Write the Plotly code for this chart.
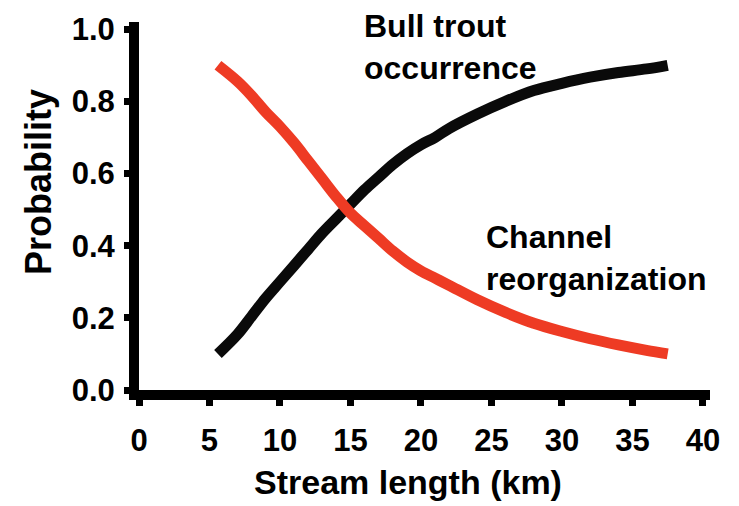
import plotly.graph_objects as go

# Stream length (km) at which the fitted curves were sampled
stream_km = [5.6, 7, 8, 9, 10, 11, 12, 13, 14, 15, 16, 17, 18, 19, 20, 21, 22,
             24, 26, 28, 30, 32, 34, 36, 37.5]

# Probability of bull trout occurrence
bull_trout = [0.10, 0.155, 0.205, 0.255, 0.30, 0.345, 0.39, 0.435, 0.475, 0.515,
              0.555, 0.59, 0.625, 0.655, 0.68, 0.70, 0.725, 0.765, 0.80, 0.83,
              0.85, 0.867, 0.88, 0.89, 0.90]

# Probability of channel reorganization
channel_reorg = [0.90, 0.855, 0.815, 0.77, 0.73, 0.685, 0.635, 0.585, 0.535, 0.49,
                 0.455, 0.42, 0.385, 0.355, 0.33, 0.31, 0.29, 0.25, 0.215, 0.185,
                 0.162, 0.142, 0.125, 0.11, 0.10]

x_ticks = [0, 5, 10, 15, 20, 25, 30, 35, 40]
y_ticks = [0.0, 0.2, 0.4, 0.6, 0.8, 1.0]
y_tick_text = ["0.0", "0.2", "0.4", "0.6", "0.8", "1.0"]

FONT = "Liberation Sans, Arial, sans-serif"

fig = go.Figure()
fig.add_trace(go.Scatter(x=stream_km, y=bull_trout, mode="lines",
                         line=dict(color="#0a0a0a", width=11, shape="spline"),
                         hoverinfo="skip"))
fig.add_trace(go.Scatter(x=stream_km, y=channel_reorg, mode="lines",
                         line=dict(color="#ee3b24", width=11, shape="spline"),
                         hoverinfo="skip"))

# Curve labels
fig.add_annotation(x=15.8, y=0.933, xref="x", yref="paper", xanchor="left", yanchor="middle",
                   text="<b>Bull trout<br>occurrence</b>", showarrow=False, align="left",
                   font=dict(family=FONT, size=32, color="#000"))
fig.add_annotation(x=24.5, y=0.36, xref="x", yref="paper", xanchor="left", yanchor="middle",
                   text="<b>Channel<br>reorganization</b>", showarrow=False, align="left",
                   font=dict(family=FONT, size=32, color="#000"))

# Axis titles
fig.add_annotation(x=-0.177, y=0.565, xref="paper", yref="paper", xanchor="center",
                   yanchor="middle", textangle=-90, text="<b>Probability</b>",
                   showarrow=False, font=dict(family=FONT, size=36, color="#000"))
fig.add_annotation(x=0.471, y=-0.25, xref="paper", yref="paper", xanchor="center",
                   yanchor="middle", text="<b>Stream length (km)</b>",
                   showarrow=False, font=dict(family=FONT, size=34, color="#000"))

fig.update_layout(
    width=739, height=506,
    margin=dict(l=139, r=29, t=18, b=116),
    paper_bgcolor="white", plot_bgcolor="white",
    showlegend=False,
    font=dict(family=FONT, color="#000"),
)
fig.update_xaxes(
    range=[0, 40.5], tickvals=x_ticks, ticktext=[f"<b>{t}</b>" for t in x_ticks],
    ticks="outside", ticklen=6, tickwidth=7,
    tickcolor="#000", showline=True, linecolor="#000", linewidth=10,
    showgrid=False, zeroline=False, tickfont=dict(size=31, family=FONT),
    ticklabelstandoff=8,
)
fig.update_yaxes(
    range=[0, 1.02], tickvals=y_ticks, ticktext=[f"<b>{t}</b>" for t in y_tick_text],
    ticks="outside", ticklen=5, tickwidth=7,
    tickcolor="#000", showline=True, linecolor="#000", linewidth=10,
    showgrid=False, zeroline=False, tickfont=dict(size=31, family=FONT),
    ticklabelstandoff=3,
)

fig.write_html("out.html")
